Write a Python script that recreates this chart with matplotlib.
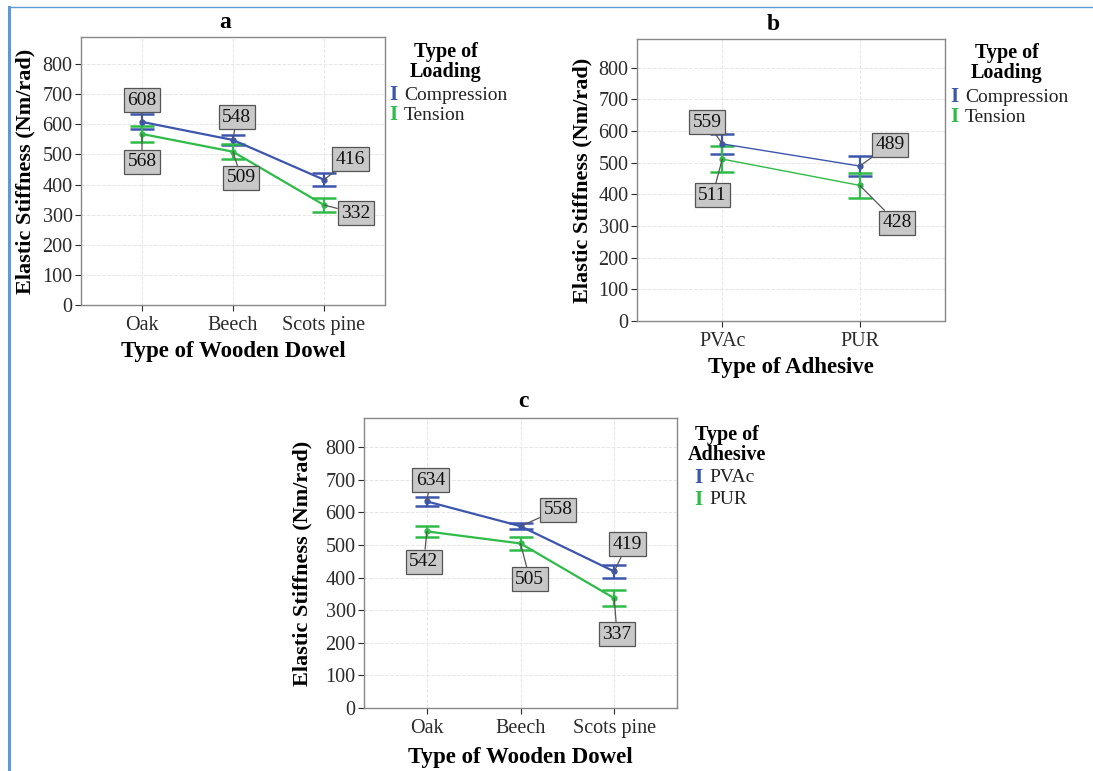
import matplotlib
matplotlib.use("Agg")
import matplotlib.pyplot as plt
from matplotlib.lines import Line2D

plt.rcParams['font.family'] = ['Liberation Serif', 'DejaVu Serif']

# --- data ---
dowels = ['Oak', 'Beech', 'Scots pine']
adhesives = ['PVAc', 'PUR']

# panel a: loading type by dowel
a_comp = [608, 548, 416]
a_comp_err = [25, 16, 21]
a_tens = [568, 509, 332]
a_tens_err = [28, 25, 23]

# panel b: loading type by adhesive
b_comp = [559, 489]
b_comp_err = [32, 31]
b_tens = [511, 428]
b_tens_err = [41, 39]

# panel c: adhesive by dowel
c_pvac = [634, 558, 419]
c_pvac_err = [15, 10, 21]
c_pur = [542, 505, 337]
c_pur_err = [18, 20, 24]

yticks = [0, 100, 200, 300, 400, 500, 600, 700, 800]

BLUE = '#3D56AD'
GREEN = '#2EBB48'
W, H = 1093, 771


def fig_rect(left, top, right, bottom):
    return [left / W, 1 - bottom / H, (right - left) / W, (bottom - top) / H]


def label_box(ax, x, y, dx, dy):
    ax.annotate(f"{y}", xy=(x, y), xytext=(x + dx, y + dy), textcoords='data',
                ha='center', va='center', fontsize=14, color='#111111',
                bbox=dict(boxstyle='square,pad=0.18', fc='#C8C8C8', ec='#555555', lw=0.9),
                arrowprops=dict(arrowstyle='-', color='#555555', lw=0.9,
                                shrinkA=0, shrinkB=0), zorder=5)


def draw_panel(ax, cats, series, lw, xpad):
    x = list(range(len(cats)))
    for vals, errs, color, offsets in series:
        ax.errorbar(x, vals, yerr=errs, color=color, lw=lw, elinewidth=1.6,
                    capsize=8.5, capthick=1.8, marker='o', ms=3.5, zorder=3)
        for xi, v, (dx, dy) in zip(x, vals, offsets):
            label_box(ax, xi, v, dx, dy)
    ax.set_xlim(-xpad, len(cats) - 1 + xpad)
    ax.set_ylim(0, 890)
    ax.set_yticks(yticks)
    ax.set_xticks(x)
    ax.set_xticklabels(cats)
    ax.tick_params(labelsize=14.5, colors='#2A2A2A', length=4, width=0.8)
    ax.tick_params(axis='y', pad=2)
    ax.tick_params(axis='x', pad=4)
    ax.grid(True, color='#E6E6E6', ls='--', lw=0.7)
    ax.set_axisbelow(True)
    for s in ax.spines.values():
        s.set_color('#888888')
        s.set_linewidth(1.0)
    ax.set_ylabel('Elastic Stiffness (Nm/rad)', fontsize=16, fontweight='bold')


def legend(fig, title, names, cx, ty, mx, ey):
    fig.text(cx / W, 1 - ty / H, title, ha='center', va='center', fontsize=14.5,
             fontweight='bold', linespacing=1.0)
    for (name, color), y in zip(names, ey):
        fig.text(mx / W, 1 - y / H, 'I', ha='center', va='center', fontsize=15,
                 fontweight='bold', color=color)
        fig.text((mx + 11) / W, 1 - y / H, name, ha='left', va='center', fontsize=14,
                 color='#222222')


fig = plt.figure(figsize=(W / 100, H / 100), dpi=100)

# page frame lines
fig.add_artist(Line2D([9 / W, 9 / W], [0, 1 - 7 / H], color='#5B9BD5', lw=2.2))
fig.add_artist(Line2D([9 / W, 1], [1 - 7 / H, 1 - 7 / H], color='#5B9BD5', lw=1.0))

# panel a
ax_a = fig.add_axes(fig_rect(81, 37, 385, 305))
draw_panel(ax_a, dowels, [
    (a_comp, a_comp_err, BLUE, [(0.0, 72), (0.04, 76), (0.29, 68)]),
    (a_tens, a_tens_err, GREEN, [(0.0, -93), (0.09, -87), (0.35, -27)]),
], lw=1.6, xpad=0.67)
ax_a.yaxis.set_label_coords(-0.151, 0.5)
ax_a.set_xlabel('Type of Wooden Dowel', fontsize=16.5, fontweight='bold')
ax_a.xaxis.set_label_coords(0.5, -0.134)
fig.text(225 / W, 1 - 23 / H, 'a', ha='center', va='center', fontsize=17, fontweight='bold')
legend(fig, 'Type of\nLoading', [('Compression', BLUE), ('Tension', GREEN)],
       446, 62, 393, [95, 115])

# panel b
ax_b = fig.add_axes(fig_rect(637, 39, 945, 321))
draw_panel(ax_b, adhesives, [
    (b_comp, b_comp_err, BLUE, [(-0.11, 69), (0.22, 68)]),
    (b_tens, b_tens_err, GREEN, [(-0.07, -114), (0.27, -118)]),
], lw=1.0, xpad=0.62)
ax_b.yaxis.set_label_coords(-0.146, 0.5)
ax_b.set_xlabel('Type of Adhesive', fontsize=16.5, fontweight='bold')
ax_b.xaxis.set_label_coords(0.5, -0.128)
fig.text(773 / W, 1 - 25 / H, 'b', ha='center', va='center', fontsize=17, fontweight='bold')
legend(fig, 'Type of\nLoading', [('Compression', BLUE), ('Tension', GREEN)],
       1007, 63, 954, [97, 117])

# panel c
ax_c = fig.add_axes(fig_rect(364, 418, 677, 708))
draw_panel(ax_c, dowels, [
    (c_pvac, c_pvac_err, BLUE, [(0.04, 65), (0.40, 51), (0.14, 84)]),
    (c_pur, c_pur_err, GREEN, [(-0.03, -93), (0.10, -110), (0.03, -110)]),
], lw=1.6, xpad=0.67)
ax_c.yaxis.set_label_coords(-0.163, 0.5)
ax_c.set_xlabel('Type of Wooden Dowel', fontsize=16.5, fontweight='bold')
ax_c.xaxis.set_label_coords(0.5, -0.134)
fig.text(523 / W, 1 - 401 / H, 'c', ha='center', va='center', fontsize=17, fontweight='bold')
legend(fig, 'Type of\nAdhesive', [('PVAc', BLUE), ('PUR', GREEN)],
       727, 445, 698, [478, 500])

fig.savefig('out.png', dpi=100)
